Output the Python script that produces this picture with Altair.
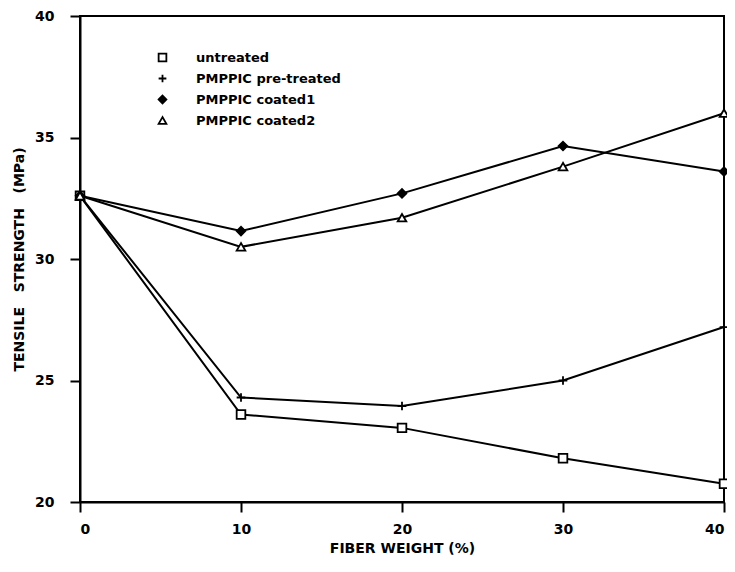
import altair as alt
import pandas as pd

fiber_weight = [0, 10, 20, 30, 40]
series_names = ["untreated", "PMPPIC pre-treated", "PMPPIC coated1", "PMPPIC coated2"]
untreated = [32.6, 23.6, 23.05, 21.8, 20.75]
pre_treated = [32.6, 24.3, 23.95, 25.0, 27.2]
coated1 = [32.6, 31.15, 32.7, 34.65, 33.6]
coated2 = [32.6, 30.5, 31.7, 33.8, 36.0]

rows = []
for name, vals in zip(series_names, [untreated, pre_treated, coated1, coated2]):
    for xv, yv in zip(fiber_weight, vals):
        rows.append({"series": name, "fiber": xv, "strength": yv})
df = pd.DataFrame(rows)

FONT = "DejaVu Sans"
NB = "\u00a0"

x = alt.X("fiber:Q", scale=alt.Scale(domain=[0, 40], nice=False),
          axis=alt.Axis(values=[0, 10, 20, 30, 40], title="FIBER WEIGHT (%)",
                        titlePadding=5, labelPadding=10))
y = alt.Y("strength:Q", scale=alt.Scale(domain=[20, 40], nice=False, zero=False),
          axis=alt.Axis(values=[20, 25, 30, 35, 40],
                        title="TENSILE" + NB * 3 + "STRENGTH" + NB * 3 + "(MPa)",
                        titlePadding=8, labelPadding=16))

base = alt.Chart(df)

lines = base.mark_line(color="black", strokeWidth=2).encode(
    x=x, y=y, detail="series:N", order="fiber:Q"
)

plus_path = "M-1,0H1M0,-1V1"
points = base.mark_point(size=75, strokeWidth=1.8, stroke="black", opacity=1).encode(
    x=x, y=y,
    shape=alt.Shape("series:N",
                    scale=alt.Scale(domain=series_names,
                                    range=["square", plus_path, "diamond", "triangle-up"]),
                    legend=alt.Legend(title=None, orient="none", legendX=76, legendY=35,
                                      symbolFillColor="white", symbolStrokeColor="black",
                                      symbolStrokeWidth=1.8, symbolSize=60,
                                      labelFont=FONT, labelFontWeight="bold", labelFontSize=13,
                                      labelColor="black", labelOffset=27, rowPadding=6)),
    fill=alt.Fill("series:N",
                  scale=alt.Scale(domain=series_names,
                                  range=["white", "transparent", "black", "white"]),
                  legend=None),
)

chart = (lines + points).properties(
    width=644, height=486,
    autosize=alt.AutoSizeParams(type="none"),
    padding={"left": 72, "top": 8, "right": 3, "bottom": 62},
).configure_view(
    stroke="black", strokeWidth=2
).configure_axis(
    grid=False,
    domainColor="black", domainWidth=2,
    tickColor="black", tickWidth=2, tickSize=10,
    labelFont=FONT, labelFontWeight="bold", labelFontSize=14, labelColor="black",
    titleFont=FONT, titleFontWeight="bold", titleFontSize=14, titleColor="black",
)

chart.save("out.html", embed_options={"renderer": "svg", "actions": False})
